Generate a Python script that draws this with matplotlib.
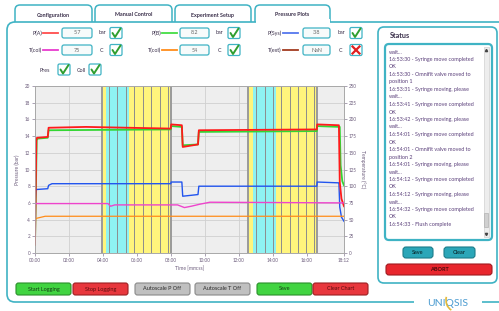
import matplotlib
matplotlib.use('Agg')
import matplotlib.pyplot as plt
from matplotlib.patches import FancyBboxPatch, Rectangle, Arc

W, H = 499, 311

# ---- chart data (time in minutes) ----
# pressures, bar
t_pa = [0, 0.08, 0.12, 0.75, 0.8, 3.0, 8.0, 8.02, 8.65, 8.7, 9.6, 9.65, 16.6, 16.62, 17.9, 17.95, 18.05, 18.2]
p_a = [1.0, 13.6, 13.8, 13.9, 15.0, 15.1, 14.9, 15.4, 15.3, 12.7, 13.0, 14.7, 14.8, 15.4, 15.3, 8.5, 6.5, 5.6]

t_pb = [0, 0.1, 0.15, 0.75, 0.8, 8.0, 8.02, 8.65, 8.7, 9.6, 9.65, 16.6, 16.62, 17.95, 18.0, 18.1, 18.2]
p_b = [1.0, 13.5, 13.7, 13.8, 14.7, 14.8, 15.2, 15.1, 12.9, 13.0, 14.5, 14.6, 15.2, 15.1, 10.5, 8.6, 8.1]

t_sys = [0, 0.05, 0.75, 0.8, 1.0, 8.0, 8.02, 8.65, 8.7, 9.6, 9.65, 16.6, 16.62, 17.9, 17.95, 18.05, 18.2]
p_sys = [6.0, 7.6, 7.7, 8.1, 8.3, 8.3, 8.5, 8.5, 6.8, 7.0, 8.0, 8.0, 8.5, 8.4, 5.5, 4.3, 3.8]

# temperatures, C
t_col1 = [0, 4.3, 4.45, 4.7, 8.4, 8.8, 9.2, 9.7, 10.3, 18.2]
temp_col1 = [74, 74, 70, 72, 72, 68, 70, 73, 76, 75]
t_col2 = [0, 0.1, 0.6, 18.2]
temp_col2 = [50, 52, 55, 55]

# valve / syringe events
band_spans = [(3.92, 8.0), (12.55, 16.63)]
cyan_spans = [(4.18, 5.55), (12.84, 14.2)]
band_lines = [4.35, 4.85, 5.35, 5.85, 6.35, 6.85, 7.35, 7.85,
              13.04, 13.53, 14.02, 14.51, 15.0, 15.49, 15.98, 16.41]

x_ticks = [0, 2, 4, 6, 8, 10, 12, 14, 16, 18.2]
x_labels = ['00:00', '02:00', '04:00', '06:00', '08:00', '10:00', '12:00', '14:00', '16:00', '18:12']

status_lines = [
    'wait...', '16:53:30 - Syringe move completed', 'OK',
    '16:53:30 - Omnifit valve moved to', 'position 1',
    '16:53:31 - Syringe moving, please', 'wait...',
    '16:53:41 - Syringe move completed', 'OK',
    '16:53:42 - Syringe moving, please', 'wait...',
    '16:54:01 - Syringe move completed', 'OK',
    '16:54:01 - Omnifit valve moved to', 'position 2',
    '16:54:01 - Syringe moving, please', 'wait...',
    '16:54:12 - Syringe move completed', 'OK',
    '16:54:12 - Syringe moving, please', 'wait...',
    '16:54:32 - Syringe move completed', 'OK',
    '16:54:33 - Flush complete',
]

plt.rcParams['font.family'] = ['Lato', 'DejaVu Sans']

teal = '#3fb3c4'
txt = '#3a2f4a'

fig = plt.figure(figsize=(W / 100, H / 100), dpi=100)
fig.patch.set_facecolor('white')

# pixel-space layer for the GUI chrome
ui = fig.add_axes([0, 0, 1, 1])
ui.set_xlim(0, W)
ui.set_ylim(H, 0)
ui.axis('off')


def rbox(x0, y0, x1, y1, fc='white', ec=teal, lw=1.0, r=3, z=2):
    ui.add_patch(FancyBboxPatch((x0, y0), x1 - x0, y1 - y0,
                                boxstyle=f'round,pad=0,rounding_size={r}',
                                fc=fc, ec=ec, lw=lw, zorder=z))


def check(x, y, ok=True):
    rbox(x, y, x + 12, y + 11, ec=teal, lw=0.9, r=1.5, z=3)
    if ok:
        ui.plot([x + 2.5, x + 5, x + 10.5], [y + 5.5, y + 9.5, y + 1], color='#2f9e2f', lw=1.4, zorder=4,
                solid_capstyle='round')
    else:
        ui.plot([x + 2.5, x + 9.5], [y + 2, y + 9], color='#e02020', lw=1.6, zorder=4)
        ui.plot([x + 2.5, x + 9.5], [y + 9, y + 2], color='#e02020', lw=1.6, zorder=4)


# tabs
tabs = [('Configuration', 15, 92), ('Manual Control', 95, 172),
        ('Experiment Setup', 175, 251), ('Pressure Plots', 255, 330)]
for name, x0, x1 in tabs:
    rbox(x0, 5, x1, 30, r=5, z=1, lw=1.1)
    ui.text((x0 + x1) / 2, 15, name, fontsize=3.9, weight='bold', color=txt,
            ha='center', va='center', zorder=5)

# main panel
rbox(7, 22, 530, 302, r=8, z=2, lw=1.2)
ui.add_patch(Rectangle((256.2, 19), 73.6, 5, fc='white', ec='none', zorder=3))

# logo
ui.add_patch(Rectangle((414, 296), 68, 15, fc='white', ec='none', zorder=3))
ui.text(448, 304, 'UNIQSIS', fontsize=7.5, color='#4a9bd0', ha='center', va='center', zorder=4)
ui.add_patch(Arc((455, 300), 18, 22, theta1=110, theta2=200, color='#e3b93a', lw=1.2, zorder=4))

# top controls
ctrl = [
    ('P(A)', 33, 43, '#ff4d4d', '5.7', 'bar', 62, 92, 110, True),
    ('P(B)', 33, 162, '#44dd44', '8.2', 'bar', 180, 209, 228, True),
    ('P(Sys)', 33, 283, '#5577ee', '3.8', 'bar', 303, 330, 350, True),
    ('T(col)', 50, 43, '#e83ccf', '75', 'C', 62, 92, 110, True),
    ('T(col)', 50, 162, '#ff8c1a', '54', 'C', 180, 209, 228, True),
    ('T(ext)', 50, 283, '#a33b20', 'NaN', 'C', 303, 330, 350, False),
]
for lab, y, lx, col, val, unit, bx0, bx1, cx, ok in ctrl:
    ui.text(lx - 1, y, lab, fontsize=3.9, color=txt, ha='right', va='center', zorder=4)
    ui.plot([lx, lx + 15], [y, y], color=col, lw=1.3, zorder=4)
    rbox(bx0, y - 5, bx1, y + 5, fc='#f7fbfb', lw=0.9, r=2, z=3)
    ui.text((bx0 + bx1) / 2, y, val, fontsize=3.9, color='#666666', ha='center', va='center', zorder=4)
    ui.text((bx1 + cx) / 2 + 1, y, unit, fontsize=3.9, color=txt, ha='center', va='center', zorder=4)
    check(cx, y - 5.5, ok)

ui.text(45, 70, 'Pres', fontsize=3.9, color=txt, ha='center', va='center', zorder=4)
check(58, 64)
ui.text(81, 70, 'Coll', fontsize=3.9, color=txt, ha='center', va='center', zorder=4)
check(89, 64)

# bottom buttons
buttons = [('Start Logging', 16, 71, '#41d441', '#2a8f2a', '#143a14'),
           ('Stop Logging', 73, 128, '#e8373d', '#9c1f22', '#5a0d0f'),
           ('Autoscale P Off', 135, 190, '#c0c0c0', '#8a8a8a', '#2a2a2a'),
           ('Autoscale T Off', 195, 250, '#c0c0c0', '#8a8a8a', '#2a2a2a'),
           ('Save', 257, 312, '#41d441', '#2a8f2a', '#143a14'),
           ('Clear Chart', 313, 368, '#e8373d', '#9c1f22', '#5a0d0f')]
for name, x0, x1, fc, ec, tc in buttons:
    rbox(x0, 283, x1, 295, fc=fc, ec=ec, lw=0.8, r=2.5, z=3)
    ui.text((x0 + x1) / 2, 289, name, fontsize=4.0, color=tc, ha='center', va='center', zorder=4)

# status panel
rbox(378, 27, 497, 283, r=6, z=3, lw=1.2)
ui.text(390, 35, 'Status', fontsize=5.2, weight='bold', color=txt, ha='left', va='center', zorder=4)
rbox(385, 44, 492, 240, r=4, z=4, lw=1.6)
ui.add_patch(Rectangle((484, 47), 5, 190, fc='#ededed', ec='#c8c8c8', lw=0.4, zorder=5))
ui.add_patch(Rectangle((484.5, 213), 4, 14, fc='#d0d0d0', ec='#a8a8a8', lw=0.4, zorder=6))
ui.plot([486.5], [50], marker='^', ms=1.6, color='#444444', zorder=6)
ui.plot([486.5], [234], marker='v', ms=1.6, color='#444444', zorder=6)
for i, line in enumerate(status_lines):
    ui.text(389, 52 + 7.5 * i, line, fontsize=3.9, color='#5a3f7a', ha='left', va='center', zorder=6)

rbox(403, 247, 433, 258, fc='#2ba6b8', ec='#1c7c8a', lw=0.8, r=3, z=5)
ui.text(418, 252.5, 'Save', fontsize=4.0, weight='bold', color='#0f3a40', ha='center', va='center', zorder=6)
rbox(444, 247, 475, 258, fc='#2ba6b8', ec='#1c7c8a', lw=0.8, r=3, z=5)
ui.text(459.5, 252.5, 'Clear', fontsize=4.0, weight='bold', color='#0f3a40', ha='center', va='center', zorder=6)
rbox(386, 264, 492, 275, fc='#e8262d', ec='#a01a1f', lw=0.8, r=3, z=5)
ui.text(439, 269.5, 'ABORT', fontsize=4.0, weight='bold', color='#4a0a0a', ha='center', va='center', zorder=6)

# ---- the chart ----
tick_col = '#6b5b7b'
ax = fig.add_axes([35 / W, 1 - 253 / H, 309 / W, 167 / H])
ax.set_facecolor('#eeeeee')
ax.set_axisbelow(True)
ax.grid(True, color='#d0d0d0', lw=0.6)

for a, b in band_spans:
    ax.axvspan(a, b, color='#fff57c', lw=0, zorder=1)
    ax.axvline(a, color='#9a9a9a', lw=1.4, zorder=2)
    ax.axvline(b, color='#9a9a9a', lw=1.4, zorder=2)
for a, b in cyan_spans:
    ax.axvspan(a, b, color='#8ef2f2', lw=0, zorder=1)
for t in band_lines:
    ax.axvline(t, color='#8c8c8c', lw=0.7, zorder=2)

ax.plot(t_pb, p_b, color='#33d633', lw=1.3, zorder=4)
ax.plot(t_pa, p_a, color='#ff1a1a', lw=1.3, zorder=5)
ax.plot(t_sys, p_sys, color='#2255ee', lw=1.0, zorder=4)

ax.set_xlim(0, 18.2)
ax.set_ylim(0, 20)
ax.set_xticks(x_ticks)
ax.set_xticklabels(x_labels)
ax.set_yticks(range(0, 21, 2))
ax.tick_params(labelsize=3.3, colors=tick_col, length=2, width=0.4, pad=1.5)
for s in ax.spines.values():
    s.set_color('#a8a8a8')
    s.set_linewidth(0.6)
ax.set_xlabel('Time [mm:ss]', fontsize=3.6, color=tick_col, labelpad=2)
ax.set_ylabel('Pressure (bar)', fontsize=3.6, color=tick_col, labelpad=3)

ax2 = ax.twinx()
ax2.plot(t_col1, temp_col1, color='#ee44cc', lw=1.0)
ax2.plot(t_col2, temp_col2, color='#ff8c1a', lw=0.9)
ax2.set_ylim(0, 250)
ax2.set_yticks(range(0, 251, 25))
ax2.tick_params(labelsize=3.3, colors=tick_col, length=2, width=0.4, pad=1.5)
for s in ax2.spines.values():
    s.set_color('#a8a8a8')
    s.set_linewidth(0.6)
ax2.set_ylabel('Temperature (°C)', fontsize=3.6, color=tick_col, rotation=270, labelpad=6)

fig.savefig('out.png', dpi=100)
